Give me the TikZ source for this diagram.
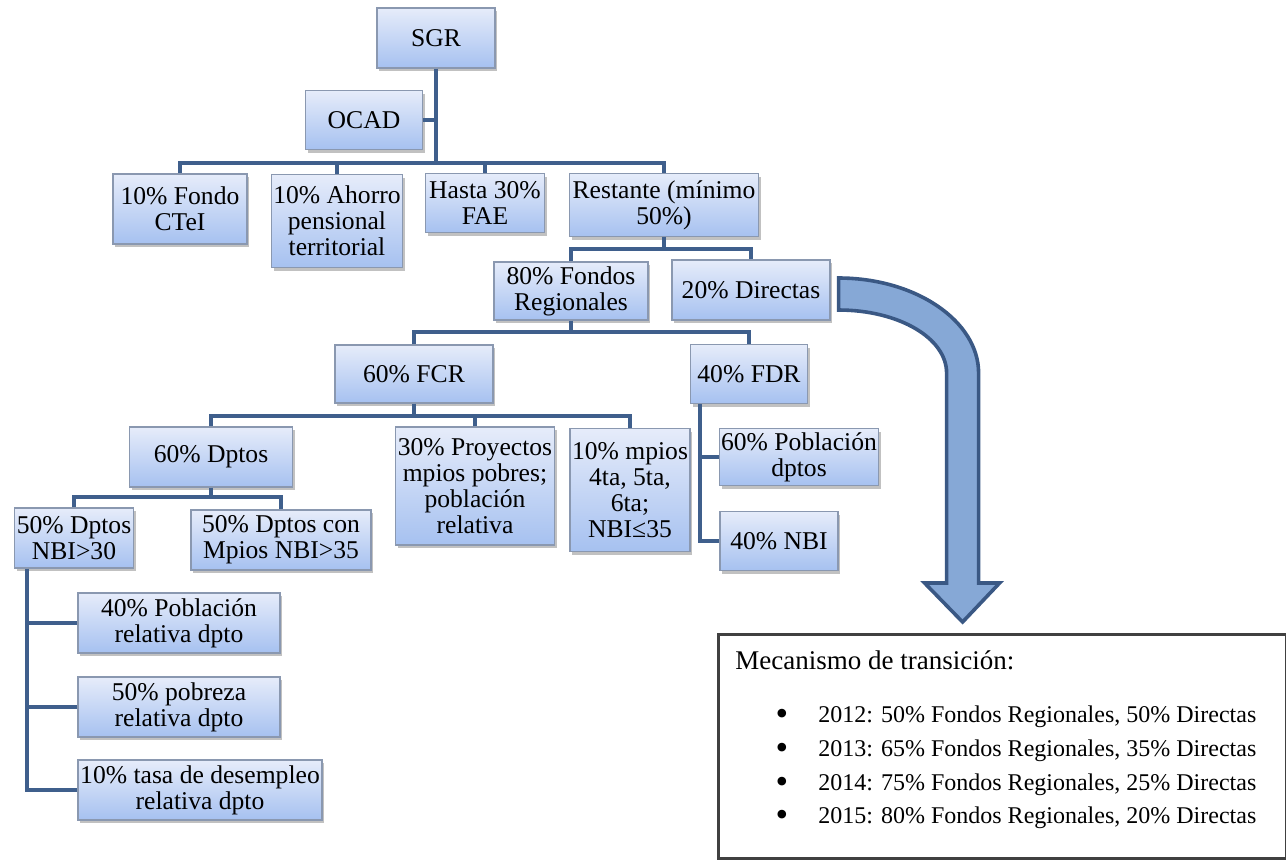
\documentclass[tikz,border=0pt]{standalone}
\usepackage{fontspec}
\setmainfont{LiberationSerif}[Extension=.ttf, UprightFont=*-Regular, BoldFont=*-Bold, ItalicFont=*-Italic, BoldItalicFont=*-BoldItalic]
\usepackage{tikz}
\usetikzlibrary{calc,positioning,shadows}

\definecolor{boxtop}{HTML}{E6ECFA}
\definecolor{boxbot}{HTML}{A6C1F0}
\definecolor{boxline}{HTML}{8A98B0}
\definecolor{linkcol}{HTML}{3F5F8C}
\definecolor{arrowfill}{HTML}{86A8D6}
\definecolor{arrowline}{HTML}{3A5884}

\begin{document}
\begin{tikzpicture}[x=0.5pt, y=-0.5pt,
                    box/.style     ={rectangle, draw=boxline, line width=0.6pt, top color=boxtop, bottom color=boxbot,
                                     align=center, inner sep=1pt, font=\fontsize{12.8}{13}\selectfont,
                                     drop shadow={shadow xshift=1.2pt, shadow yshift=-1.5pt, opacity=0.35, fill=black!70}},
                    link/.style    ={-, draw=linkcol, line width=2pt},
                    bigarrow/.style={draw=arrowline, line width=1.8pt, fill=arrowfill, line join=miter},
                    note/.style    ={rectangle, draw=black!75, line width=1.5pt, anchor=north west, inner sep=0},
                    item/.style    ={anchor=west, inner sep=0, font=\fontsize{12}{14}\selectfont}]

      \useasboundingbox (0,0) rectangle (1286,859);

      \node[box, minimum width=59pt,   minimum height=30pt]   at(436, 38)  (sgr)        {SGR};
      \node[box, minimum width=58.5pt, minimum height=29.5pt] at(364,120)  (ocad)       {OCAD};
      \node[box, minimum width=67pt,   minimum height=35pt]   at(180,209)  (ctei)       {10\% Fondo\\CTeI};
      \node[box, minimum width=65pt,   minimum height=46.5pt] at(337,221)  (ahorro)     {10\% Ahorro\\pensional\\territorial};
      \node[box, minimum width=59.5pt, minimum height=29.5pt] at(485,203)  (fae)        {Hasta 30\%\\FAE};
      \node[box, minimum width=94.5pt, minimum height=31.5pt] at(664,205)  (restante)   {Restante (mínimo\\50\%)};
      \node[box, minimum width=77pt,   minimum height=29pt]   at(571,291)  (fr80)       {80\% Fondos\\Regionales};
      \node[box, minimum width=79pt,   minimum height=30pt]   at(751,290)  (dir20)      {20\% Directas};
      \node[box, minimum width=79pt,   minimum height=29pt]   at(414,374)  (fcr60)      {60\% FCR};
      \node[box, minimum width=58.5pt, minimum height=29.5pt] at(749,374)  (fdr40)      {40\% FDR};
      \node[box, minimum width=81.5pt, minimum height=30pt]   at(211,457)  (dptos60)    {60\% Dptos};
      \node[box, minimum width=78.5pt, minimum height=59pt]   at(475,486)  (proy30)     {30\% Proyectos\\mpios pobres;\\población\\relativa};
      \node[box, minimum width=57.5pt, minimum height=61.5pt] at(630,490)  (mpios10)    {10\% mpios\\4ta, 5ta,\\6ta;\\NBI≤35};
      \node[box, minimum width=58.5pt, minimum height=30pt]   at( 74,538)  (nbi30)      {50\% Dptos\\NBI>30};
      \node[box, minimum width=90pt,   minimum height=30pt]   at(281,540)  (mpios35)    {50\% Dptos con\\Mpios NBI>35};
      \node[box, minimum width=101pt,  minimum height=30pt]   at(179,623)  (pob40)      {40\% Población\\relativa dpto};
      \node[box, minimum width=101pt,  minimum height=30pt]   at(179,707)  (pobreza50)  {50\% pobreza\\relativa dpto};
      \node[box, minimum width=122pt,  minimum height=30pt]   at(200,790)  (tasa10)     {10\% tasa de desempleo\\relativa dpto};
      \node[box, minimum width=79pt,   minimum height=28.5pt] at(799,457)  (pobdptos60) {60\% Población\\dptos};
      \node[box, minimum width=59pt,   minimum height=29.5pt] at(779,541)  (nbi40)      {40\% NBI};

      \coordinate (b1) at(436,163);
      \coordinate (b2) at(664,249);
      \coordinate (b3) at(571,332);
      \coordinate (b4) at(414,416);
      \coordinate (b5) at(211,497);
      \coordinate (s1) at($(nbi30.south west)+(13,0)$);
      \coordinate (s2) at($(fdr40.south west)+(10,0)$);

      \path[link] (sgr.south)      -- (b1);
      \path[link] (ocad.east)      -- (ocad.east -| b1);
      \path[link] (ctei.north)     |- (b1);
      \path[link] (ahorro.north)   |- (b1);
      \path[link] (fae.north)      |- (b1);
      \path[link] (restante.north) |- (b1);
      \path[link] (restante.south) -- (b2);
      \path[link] (fr80.north)     |- (b2);
      \path[link] (dir20.north)    |- (b2);
      \path[link] (fr80.south)     -- (b3);
      \path[link] (fcr60.north)    |- (b3);
      \path[link] (fdr40.north)    |- (b3);
      \path[link] (fcr60.south)    -- (b4);
      \path[link] (dptos60.north)  |- (b4);
      \path[link] (proy30.north)   |- (b4);
      \path[link] (mpios10.north)  |- (b4);
      \path[link] (dptos60.south)  -- (b5);
      \path[link] (nbi30.north)    |- (b5);
      \path[link] (mpios35.north)  |- (b5);
      \path[link] (s1)             |- (tasa10.west);
      \path[link] (pob40.west)     -| (s1);
      \path[link] (pobreza50.west) -| (s1);
      \path[link] (s2)             |- (nbi40.west);
      \path[link] (pobdptos60.west)-| (s2);

      \coordinate (ar) at($(dir20.east)+(8,-12)$);
      \draw[bigarrow] (ar) .. controls +(77,0) and +(0,-52) .. ++(140,95) -- ++(0,210) -- ++(21,0)
                      -- ++(-37,39) -- ++(-38,-39) -- ++(22,0) -- ++(0,-210)
                      .. controls +(0,-35) and +(60,0) .. ++(-108,-63) -- cycle;

      \node[note, minimum width=284pt, minimum height=112pt] at(717,633) (trans) {};
      \node[item, font=\fontsize{13.5}{15}\selectfont] at(735,660) (titulo) {Mecanismo de transición:};
      \foreach \y/\t [count=\i] in {717/{2012: 50\% Fondos Regionales, 50\% Directas},
                                    751/{2013: 65\% Fondos Regionales, 35\% Directas},
                                    785/{2014: 75\% Fondos Regionales, 25\% Directas},
                                    818/{2015: 80\% Fondos Regionales, 20\% Directas}}{
        \node[inner sep=0, font=\fontsize{18}{18}\selectfont] at(782,\y) (dot\i) {\textbullet};
        \node[item] at(818,\y) (linea\i) {\t};
      }
    \end{tikzpicture}
\end{document}
